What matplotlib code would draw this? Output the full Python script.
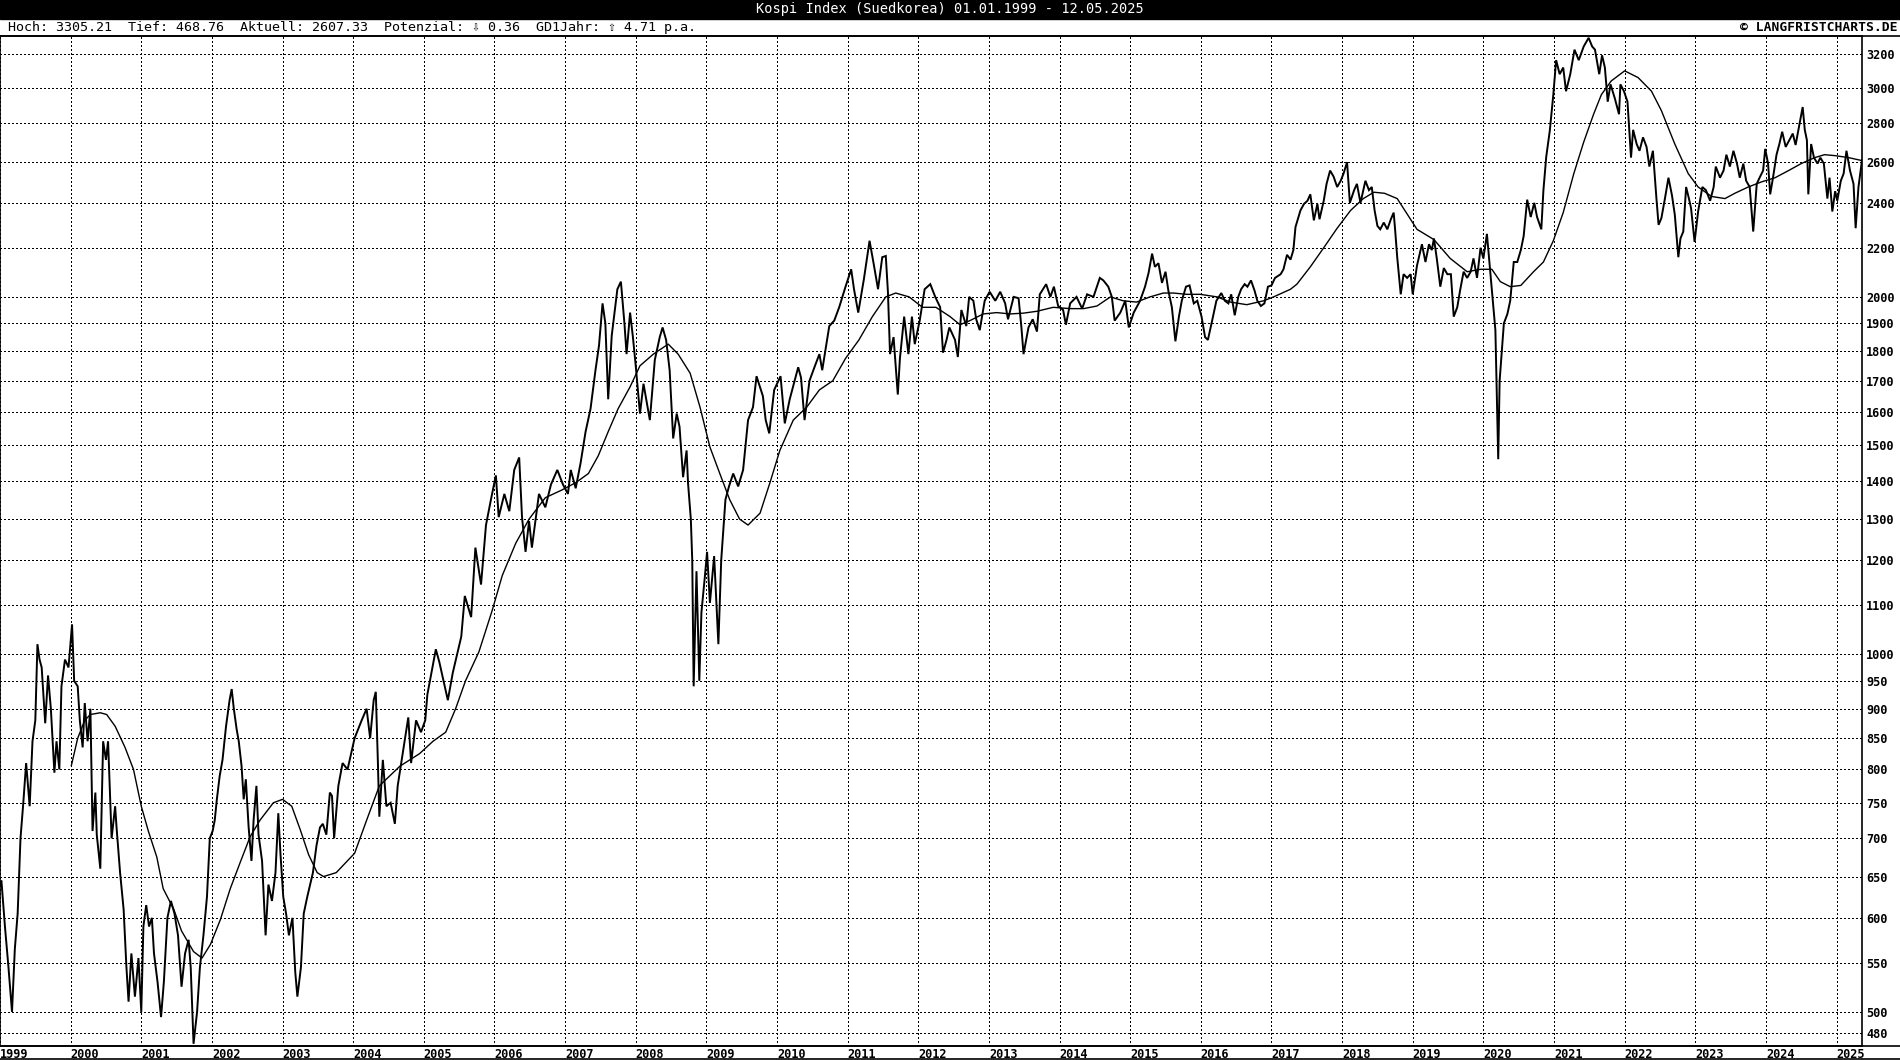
import matplotlib
matplotlib.use("Agg")
import matplotlib.pyplot as plt
from matplotlib.lines import Line2D
from matplotlib.ticker import FixedLocator, FixedFormatter, NullLocator, NullFormatter

# ---------------- data ----------------
title_text = "Kospi Index (Suedkorea) 01.01.1999 - 12.05.2025"
header_text = "Hoch: 3305.21  Tief: 468.76  Aktuell: 2607.33  Potenzial: \u21e9 0.36  GD1Jahr: \u21e7 4.71 p.a."
copyright_text = "\u00a9 LANGFRISTCHARTS.DE"

price_years = [
    1999.00, 1999.02, 1999.07, 1999.12, 1999.17, 1999.21, 1999.25, 1999.29, 1999.33, 1999.37,
    1999.42, 1999.46, 1999.50, 1999.53, 1999.56, 1999.59, 1999.64, 1999.68, 1999.72, 1999.77,
    1999.80, 1999.84, 1999.87, 1999.92, 1999.97, 2000.02, 2000.05, 2000.10, 2000.13, 2000.17,
    2000.20, 2000.24, 2000.28, 2000.31, 2000.35, 2000.37, 2000.42, 2000.46, 2000.50, 2000.53,
    2000.58, 2000.63, 2000.65, 2000.70, 2000.75, 2000.79, 2000.82, 2000.86, 2000.91, 2000.96,
    2001.00, 2001.03, 2001.07, 2001.11, 2001.15, 2001.18, 2001.23, 2001.28, 2001.32, 2001.37,
    2001.42, 2001.47, 2001.52, 2001.57, 2001.62, 2001.67, 2001.70, 2001.74, 2001.79, 2001.83,
    2001.88, 2001.93, 2001.97, 2002.01, 2002.04, 2002.07, 2002.11, 2002.15, 2002.20, 2002.25,
    2002.28, 2002.31, 2002.35, 2002.38, 2002.42, 2002.45, 2002.48, 2002.52, 2002.56, 2002.59,
    2002.63, 2002.66, 2002.71, 2002.76, 2002.80, 2002.85, 2002.90, 2002.94, 2002.97, 2003.01,
    2003.05, 2003.09, 2003.14, 2003.18, 2003.21, 2003.26, 2003.30, 2003.35, 2003.39, 2003.43,
    2003.48, 2003.53, 2003.57, 2003.62, 2003.67, 2003.70, 2003.73, 2003.79, 2003.85, 2003.92,
    2004.02, 2004.12, 2004.19, 2004.24, 2004.29, 2004.32, 2004.35, 2004.37, 2004.42, 2004.47,
    2004.53, 2004.59, 2004.63, 2004.68, 2004.78, 2004.82, 2004.89, 2004.96, 2005.02, 2005.05,
    2005.17, 2005.22, 2005.27, 2005.34, 2005.41, 2005.48, 2005.53, 2005.58, 2005.67, 2005.73,
    2005.81, 2005.88, 2005.95, 2006.02, 2006.06, 2006.14, 2006.21, 2006.28, 2006.35, 2006.39,
    2006.44, 2006.49, 2006.53, 2006.63, 2006.72, 2006.80, 2006.89, 2006.97, 2007.04, 2007.08,
    2007.15, 2007.22, 2007.29, 2007.36, 2007.43, 2007.48, 2007.53, 2007.57, 2007.61, 2007.66,
    2007.74, 2007.79, 2007.84, 2007.87, 2007.92, 2007.96, 2008.00, 2008.06, 2008.11, 2008.20,
    2008.27, 2008.34, 2008.38, 2008.43, 2008.48, 2008.53, 2008.58, 2008.62, 2008.67, 2008.72,
    2008.74, 2008.78, 2008.80, 2008.82, 2008.86, 2008.90, 2008.93, 2008.98, 2009.01, 2009.05,
    2009.11, 2009.17, 2009.21, 2009.27, 2009.32, 2009.38, 2009.45, 2009.52, 2009.59, 2009.66,
    2009.71, 2009.80, 2009.84, 2009.89, 2009.96, 2010.05, 2010.11, 2010.18, 2010.30, 2010.34,
    2010.39, 2010.46, 2010.53, 2010.60, 2010.64, 2010.74, 2010.81, 2010.88, 2010.97, 2011.05,
    2011.09, 2011.15, 2011.23, 2011.31, 2011.37, 2011.43, 2011.49, 2011.54, 2011.57, 2011.60,
    2011.65, 2011.71, 2011.74, 2011.80, 2011.86, 2011.91, 2011.95, 2012.02, 2012.09, 2012.17,
    2012.24, 2012.31, 2012.35, 2012.40, 2012.44, 2012.52, 2012.56, 2012.61, 2012.68, 2012.72,
    2012.78, 2012.82, 2012.87, 2012.94, 2013.01, 2013.09, 2013.16, 2013.23, 2013.27, 2013.35,
    2013.42, 2013.46, 2013.49, 2013.56, 2013.62, 2013.68, 2013.72, 2013.81, 2013.87, 2013.92,
    2013.98, 2014.05, 2014.09, 2014.15, 2014.24, 2014.32, 2014.39, 2014.48, 2014.57, 2014.62,
    2014.69, 2014.74, 2014.78, 2014.86, 2014.93, 2014.98, 2015.05, 2015.14, 2015.21, 2015.26,
    2015.31, 2015.35, 2015.40, 2015.45, 2015.50, 2015.54, 2015.59, 2015.64, 2015.69, 2015.73,
    2015.79, 2015.84, 2015.90, 2015.95, 2016.01, 2016.06, 2016.10, 2016.16, 2016.22, 2016.29,
    2016.34, 2016.39, 2016.43, 2016.48, 2016.53, 2016.57, 2016.62, 2016.66, 2016.71, 2016.76,
    2016.80, 2016.85, 2016.90, 2016.95, 2017.00, 2017.05, 2017.13, 2017.17, 2017.22, 2017.27,
    2017.31, 2017.34, 2017.41, 2017.46, 2017.51, 2017.55, 2017.60, 2017.65, 2017.68, 2017.74,
    2017.78, 2017.83, 2017.88, 2017.93, 2017.98, 2018.02, 2018.07, 2018.11, 2018.17, 2018.21,
    2018.26, 2018.31, 2018.33, 2018.38, 2018.42, 2018.46, 2018.50, 2018.54, 2018.59, 2018.64,
    2018.69, 2018.73, 2018.75, 2018.78, 2018.83, 2018.87, 2018.92, 2018.97, 2019.00, 2019.06,
    2019.13, 2019.18, 2019.23, 2019.27, 2019.30, 2019.34, 2019.39, 2019.44, 2019.49, 2019.54,
    2019.58, 2019.63, 2019.67, 2019.72, 2019.77, 2019.82, 2019.86, 2019.91, 2019.96, 2020.00,
    2020.05, 2020.09, 2020.13, 2020.17, 2020.21, 2020.23, 2020.29, 2020.34, 2020.38, 2020.43,
    2020.48, 2020.53, 2020.57, 2020.62, 2020.67, 2020.72, 2020.76, 2020.82, 2020.85, 2020.89,
    2020.94, 2020.99, 2021.03, 2021.08, 2021.13, 2021.17, 2021.23, 2021.29, 2021.35, 2021.42,
    2021.49, 2021.54, 2021.58, 2021.64, 2021.68, 2021.72, 2021.76, 2021.80, 2021.86, 2021.92,
    2021.94, 2021.99, 2022.04, 2022.09, 2022.12, 2022.17, 2022.21, 2022.26, 2022.31, 2022.35,
    2022.40, 2022.45, 2022.48, 2022.52, 2022.57, 2022.62, 2022.67, 2022.71, 2022.76, 2022.79,
    2022.83, 2022.87, 2022.91, 2022.94, 2022.99, 2023.04, 2023.10, 2023.15, 2023.21, 2023.26,
    2023.29, 2023.35, 2023.40, 2023.44, 2023.49, 2023.54, 2023.59, 2023.63, 2023.68, 2023.72,
    2023.77, 2023.82, 2023.87, 2023.91, 2023.96, 2023.99, 2024.03, 2024.06, 2024.10, 2024.15,
    2024.19, 2024.23, 2024.28, 2024.33, 2024.38, 2024.42, 2024.47, 2024.52, 2024.55, 2024.58,
    2024.60, 2024.64, 2024.68, 2024.73, 2024.77, 2024.82, 2024.87, 2024.90, 2024.94, 2024.98,
    2025.01, 2025.06, 2025.10, 2025.14, 2025.19, 2025.24, 2025.27, 2025.31, 2025.36,
]
price_values = [
    640, 645, 590, 545, 500, 565, 605, 700, 750, 810,
    745, 845, 880, 1020, 990, 975, 875, 960, 900, 795,
    845, 800, 940, 990, 975, 1060, 950, 940, 880, 835,
    910, 845, 900, 710, 765, 705, 660, 845, 815, 845,
    700, 745, 715, 655, 610, 545, 510, 560, 515, 555,
    500, 590, 615, 590, 600, 560, 530, 495, 530, 600,
    620, 605, 580, 525, 560, 575, 545, 470, 500, 545,
    580, 625, 700, 710, 725, 755, 790, 815, 870, 915,
    935, 900, 865, 845, 805, 755, 785, 715, 670, 725,
    775, 705, 670, 580, 640, 620, 655, 735, 680, 625,
    605, 580, 600, 540, 515, 545, 605, 625, 640, 655,
    690, 715, 720, 705, 765, 760, 700, 775, 810, 800,
    850, 880, 900, 850, 915, 930, 810, 730, 815, 745,
    750, 720, 775, 810, 885, 810, 880, 860, 880, 925,
    1010, 985, 955, 915, 965, 1005, 1035, 1120, 1075, 1230,
    1145, 1285, 1350, 1415, 1305, 1365, 1320, 1430, 1465, 1305,
    1220, 1295, 1230, 1365, 1330, 1390, 1430, 1390, 1365, 1430,
    1380, 1450, 1540, 1610, 1735, 1820, 1975, 1900, 1640, 1855,
    2030, 2060, 1900, 1790, 1940, 1850, 1750, 1595, 1690, 1575,
    1770, 1850, 1885, 1840, 1735, 1520, 1595, 1555, 1410, 1485,
    1395, 1300, 1200, 940, 1175, 950, 1085, 1165, 1220, 1105,
    1210, 1020, 1200, 1350, 1385, 1420, 1385, 1430, 1575, 1615,
    1715, 1650, 1575, 1535, 1670, 1715, 1565, 1640, 1745, 1710,
    1575, 1700, 1745, 1790, 1735, 1890, 1910, 1960, 2040, 2110,
    2030, 1940, 2070, 2230, 2130, 2030, 2160, 2165, 2020, 1790,
    1850, 1655, 1775, 1925, 1790, 1925, 1825, 1910, 2030, 2050,
    2000, 1960, 1795, 1840, 1885, 1840, 1780, 1950, 1890, 2000,
    1985, 1915, 1875, 1985, 2020, 1985, 2020, 1975, 1915, 2000,
    1995, 1885, 1790, 1885, 1915, 1870, 2010, 2050, 2000, 2040,
    1965, 1950, 1895, 1975, 2000, 1955, 2010, 2000, 2075, 2065,
    2040, 2000, 1910, 1940, 1985, 1885, 1940, 1985, 2040, 2095,
    2175, 2120, 2135, 2055, 2100, 2025, 1960, 1835, 1925, 1985,
    2040, 2045, 1975, 1985, 1925, 1850, 1840, 1910, 1985, 2015,
    1985, 1975, 2010, 1930, 2000, 2030, 2050, 2040, 2065, 2025,
    1985, 1965, 1975, 2040, 2045, 2075, 2090, 2110, 2170, 2150,
    2190, 2290, 2365, 2395, 2410, 2440, 2320, 2395, 2325, 2410,
    2490, 2555, 2525, 2475, 2505, 2540, 2597, 2400, 2460, 2490,
    2400, 2475, 2505, 2460, 2475, 2365, 2295, 2280, 2310, 2280,
    2325, 2355, 2280, 2160, 2010, 2090, 2075, 2090, 2010, 2125,
    2215, 2140, 2215, 2190, 2240, 2155, 2040, 2115, 2090, 2090,
    1925, 1960, 2025, 2100, 2075, 2100, 2155, 2075, 2200, 2155,
    2260, 2125, 2000, 1875, 1460, 1700, 1900, 1935, 1985, 2140,
    2140, 2190, 2250, 2415, 2335, 2400, 2335, 2280, 2460, 2625,
    2760, 2960, 3165, 3080, 3120, 2980, 3080, 3230, 3165, 3250,
    3305, 3250, 3230, 3080, 3195, 3120, 2920, 3020, 2940, 2850,
    3020, 2980, 2920, 2620, 2765, 2690, 2655, 2725, 2675, 2575,
    2655, 2420, 2300, 2330, 2420, 2520, 2435, 2345, 2160, 2240,
    2270, 2475, 2420, 2375, 2225, 2360, 2475, 2460, 2410, 2475,
    2575, 2520, 2555, 2635, 2575, 2655, 2590, 2520, 2590, 2505,
    2475, 2270, 2490, 2520, 2555, 2665, 2590, 2440, 2520, 2635,
    2690, 2755, 2675, 2710, 2745, 2685, 2785, 2890, 2765, 2710,
    2440, 2690, 2620, 2590, 2620, 2590, 2420, 2520, 2360, 2455,
    2410, 2505, 2540, 2655, 2555, 2490, 2285, 2475, 2607,
]

# 1-year moving average (GD1Jahr)
ma_years = [
    2000.01, 2000.10, 2000.20, 2000.28, 2000.42, 2000.51, 2000.63, 2000.77, 2000.89, 2001.00,
    2001.10, 2001.22, 2001.31, 2001.46, 2001.57, 2001.74, 2001.86, 2001.98, 2002.12, 2002.26,
    2002.40, 2002.54, 2002.68, 2002.87, 2003.00, 2003.13, 2003.25, 2003.37, 2003.49, 2003.58,
    2003.76, 2004.02, 2004.19, 2004.37, 2004.66, 2004.94, 2005.13, 2005.31, 2005.45, 2005.59,
    2005.78, 2005.97, 2006.11, 2006.30, 2006.49, 2006.72, 2006.95, 2007.15, 2007.33, 2007.47,
    2007.61, 2007.75, 2007.92, 2008.06, 2008.25, 2008.46, 2008.60, 2008.77, 2008.91, 2009.05,
    2009.19, 2009.33, 2009.47, 2009.59, 2009.76, 2009.90, 2010.04, 2010.23, 2010.42, 2010.60,
    2010.79, 2010.97, 2011.16, 2011.35, 2011.54, 2011.68, 2011.87, 2012.06, 2012.25, 2012.45,
    2012.59, 2012.73, 2012.92, 2013.11, 2013.30, 2013.49, 2013.68, 2013.91, 2014.15, 2014.34,
    2014.53, 2014.72, 2014.90, 2015.09, 2015.28, 2015.47, 2015.61, 2015.80, 2015.99, 2016.23,
    2016.42, 2016.65, 2016.89, 2017.03, 2017.27, 2017.36, 2017.55, 2017.74, 2017.93, 2018.12,
    2018.30, 2018.45, 2018.60, 2018.78, 2019.06, 2019.30, 2019.53, 2019.77, 2019.96, 2020.12,
    2020.24, 2020.38, 2020.53, 2020.71, 2020.85, 2020.99, 2021.13, 2021.28, 2021.42, 2021.56,
    2021.67, 2021.81, 2022.00, 2022.19, 2022.38, 2022.52, 2022.71, 2022.90, 2023.04, 2023.23,
    2023.42, 2023.56, 2023.75, 2023.94, 2024.13, 2024.32, 2024.50, 2024.69, 2024.83, 2024.98,
    2025.17, 2025.36,
]
ma_values = [
    806, 850, 880, 890, 893, 890, 870, 835, 800, 745,
    710, 675, 635, 610, 585, 562, 555, 570, 598, 635,
    668, 702, 725, 750, 755, 745, 712, 678, 655, 650,
    655, 680, 725, 775, 805, 825, 845, 860, 900, 950,
    1005, 1090, 1165, 1240, 1300, 1355, 1375, 1395, 1420, 1470,
    1540, 1610, 1680, 1750, 1790, 1825, 1790, 1725, 1615, 1495,
    1420, 1350, 1300, 1285, 1315, 1395, 1485, 1575, 1615, 1670,
    1700, 1775, 1840, 1925, 2000, 2015, 2000, 1960, 1960, 1925,
    1895, 1910, 1935, 1940, 1935, 1938, 1945, 1960, 1955, 1955,
    1965, 2000, 1985, 1980, 2000, 2015, 2015, 2010, 2010, 2000,
    1980, 1970, 1985, 2000, 2030, 2050, 2120, 2200, 2285, 2365,
    2420, 2450, 2445, 2420, 2280, 2235, 2155, 2100, 2110, 2110,
    2060, 2040, 2045, 2100, 2140, 2230, 2355, 2540, 2700, 2850,
    2960, 3040, 3100, 3060, 2980, 2870, 2690, 2540, 2475, 2430,
    2420, 2445, 2475, 2500, 2520, 2555, 2590, 2620, 2635, 2630,
    2620, 2605,
]

y_tick_values = [480, 500, 550, 600, 650, 700, 750, 800, 850, 900, 950, 1000,
                 1100, 1200, 1300, 1400, 1500, 1600, 1700, 1800, 1900, 2000,
                 2200, 2400, 2600, 2800, 3000, 3200]
year_ticks = list(range(1999, 2026))
year_labels = [str(y) for y in year_ticks]

# ---------------- figure ----------------
W, H = 1900, 1060
fig = plt.figure(figsize=(W / 100, H / 100), dpi=100)
fig.patch.set_facecolor("white")

MONO = ["DejaVu Sans Mono", "DejaVu Sans"]

ax_left, ax_right, ax_top, ax_bottom = 0, 1862, 35.5, 1046
ax = fig.add_axes([ax_left / W, 1 - ax_bottom / H, (ax_right - ax_left) / W, (ax_bottom - ax_top) / H])
ax.set_facecolor("white")

ax.plot(price_years, price_values, color="black", linewidth=1.4, solid_joinstyle="miter", zorder=3)
ax.plot(ma_years, ma_values, color="black", linewidth=1.0, zorder=4)

ax.set_yscale("log")
ax.set_ylim(468.0, 3320)
ax.set_xlim(1999.0, 2025.36)

# y ticks on the right
ax.yaxis.set_major_locator(FixedLocator(y_tick_values))
ax.yaxis.set_major_formatter(FixedFormatter([str(v) for v in y_tick_values]))
ax.yaxis.set_minor_locator(NullLocator())
ax.yaxis.set_minor_formatter(NullFormatter())
ax.yaxis.tick_right()
ax.tick_params(axis="y", length=0, pad=3)
for lab in ax.get_yticklabels():
    lab.set_fontfamily(MONO)
    lab.set_fontsize(8.6)
    lab.set_fontweight("bold")

# x ticks: years
ax.xaxis.set_major_locator(FixedLocator(year_ticks))
ax.xaxis.set_major_formatter(FixedFormatter(year_labels))
ax.xaxis.set_minor_locator(NullLocator())
ax.tick_params(axis="x", length=0, pad=1.5)
for lab in ax.get_xticklabels():
    lab.set_fontfamily(MONO)
    lab.set_fontsize(8.6)
    lab.set_fontweight("bold")
    lab.set_horizontalalignment("left")

ax.grid(True, which="major", color="black", linestyle=(0, (1, 2.5)), linewidth=0.75)
for gl in ax.get_xgridlines() + ax.get_ygridlines():
    gl.set_antialiased(False)
ax.set_axisbelow(True)

for side in ["left", "right", "top", "bottom"]:
    ax.spines[side].set_color("black")
    ax.spines[side].set_linewidth(1.2)

# ---------------- header ----------------
def fx(px):
    return px / W

def fy(py):
    return 1 - py / H

bar = plt.Rectangle((0, fy(19)), 1, 19 / H, transform=fig.transFigure, color="black", zorder=0)
fig.add_artist(bar)
fig.text(fx(950), fy(9.5), title_text, color="white", fontsize=9.8, family=MONO,
         ha="center", va="center")
fig.text(fx(8), fy(27.5), header_text, color="black", fontsize=9.6, family=MONO,
         ha="left", va="center")
fig.text(fx(1897), fy(27.5), copyright_text, color="black", fontsize=9.4, family=MONO,
         fontweight="bold", ha="right", va="center")

# full-width frame lines
for py in [35.5, 1046, 1059]:
    fig.add_artist(Line2D([0, 1], [fy(py), fy(py)], transform=fig.transFigure,
                          color="black", linewidth=1.2))

fig.savefig("out.png", dpi=100, facecolor="white")
